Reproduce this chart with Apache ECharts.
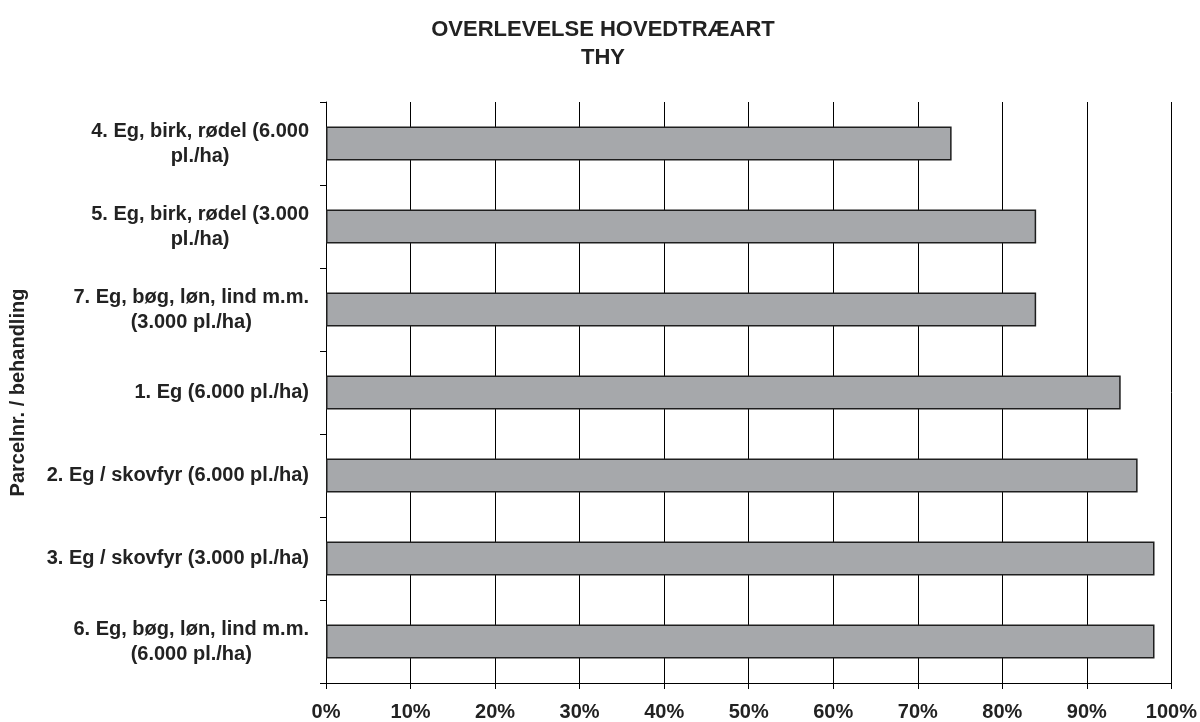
<!DOCTYPE html>
<html>
<head>
<meta charset="utf-8">
<script src="https://cdn.jsdelivr.net/npm/echarts@6/dist/echarts.min.js"></script>
<style>html,body{margin:0;padding:0;background:#fff}#c{width:1200px;height:722px}</style>
</head>
<body>
<div id="c"></div>
<script>
var categories = [
  '4. Eg, birk, rødel (6.000\npl./ha)',
  '5. Eg, birk, rødel (3.000\npl./ha)',
  '7. Eg, bøg, løn, lind m.m.\n(3.000 pl./ha)',
  '1. Eg (6.000 pl./ha)',
  '2. Eg / skovfyr (6.000 pl./ha)',
  '3. Eg / skovfyr (3.000 pl./ha)',
  '6. Eg, bøg, løn, lind m.m.\n(6.000 pl./ha)'
];
var survival = [74, 84, 84, 94, 96, 98, 98];
var xTicks = [0, 10, 20, 30, 40, 50, 60, 70, 80, 90, 100];

var FONT = 'Liberation Sans, Arial, sans-serif';
var TXT = '#222';
var chart = echarts.init(document.getElementById('c'));
chart.setOption({
  animation: false,
  title: {
    text: 'OVERLEVELSE HOVEDTRÆART\nTHY',
    left: 598, top: 11, textAlign: 'center',
    textStyle: { fontFamily: FONT, fontSize: 22, fontWeight: 'bold', color: TXT, lineHeight: 28 }
  },
  grid: { left: 326, right: 28, top: 102, bottom: 39, containLabel: false },
  xAxis: {
    type: 'value', min: 0, max: 100, interval: 10,
    axisLine: { show: true, lineStyle: { color: '#000', width: 1 } },
    axisTick: { show: true, length: 6, lineStyle: { color: '#000' } },
    splitLine: { show: true, lineStyle: { color: '#000', width: 1 } },
    axisLabel: {
      margin: 19,
      formatter: function (v) { return xTicks.indexOf(v) >= 0 ? v + '%' : ''; },
      fontFamily: FONT, fontSize: 20, fontWeight: 'bold', color: TXT
    }
  },
  yAxis: {
    type: 'category', inverse: true, data: categories,
    name: 'Parcelnr. / behandling', nameLocation: 'middle', nameRotate: 90, nameGap: 298,
    nameTextStyle: { fontFamily: FONT, fontSize: 20, fontWeight: 'bold', color: TXT },
    axisLine: { show: true, lineStyle: { color: '#000', width: 1 } },
    axisTick: { show: true, length: 6, lineStyle: { color: '#000' } },
    splitLine: { show: false },
    axisLabel: {
      margin: 17,
      formatter: function (v) {
        return v.split('\n').map(function (s) { return '{c|' + s + '}'; }).join('\n');
      },
      rich: {
        c: { align: 'center', fontFamily: FONT, fontSize: 20, fontWeight: 'bold', color: TXT, lineHeight: 25 }
      }
    }
  },
  series: [{
    type: 'bar', data: survival, barCategoryGap: '59%',
    itemStyle: { color: '#A6A8AB', borderColor: '#1e1e1e', borderWidth: 1.5 }
  }]
});
</script>
</body>
</html>
